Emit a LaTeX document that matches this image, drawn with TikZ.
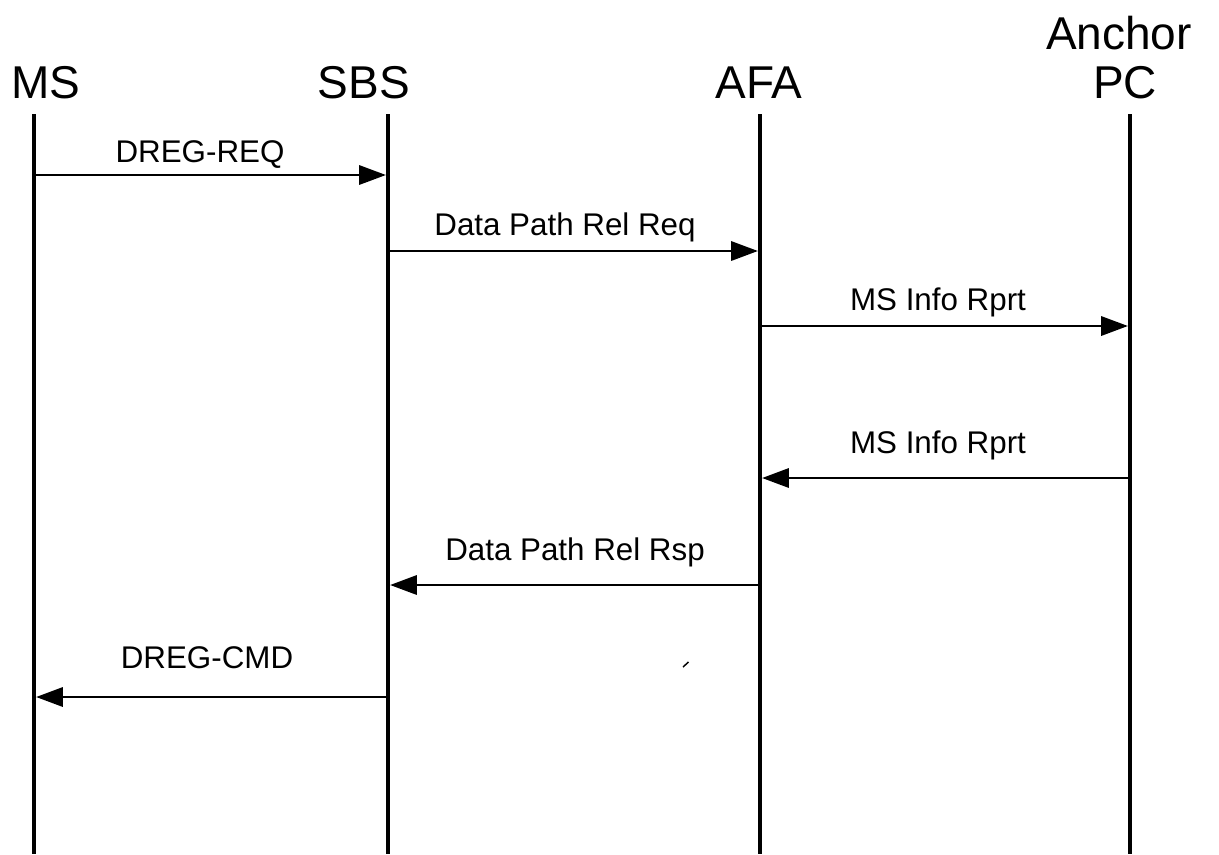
\documentclass[tikz,border=0pt]{standalone}
\usepackage{fontspec}
\setmainfont{Liberation Sans}
\usetikzlibrary{arrows.meta}
\begin{document}
\begin{tikzpicture}[x=0.75pt,y=-0.75pt,
  head/.style={font=\fontsize{34.5pt}{36pt}\selectfont, inner sep=0pt, anchor=base},
  msglabel/.style={font=\fontsize{23.5pt}{26pt}\selectfont, inner sep=0pt, anchor=base},
  lifeline/.style={line width=3.4pt},
  msg/.style={line width=1.5pt, -{Triangle[length=20pt,width=14.5pt]}, shorten >=1.6pt}]
\useasboundingbox (0,0) rectangle (1219,854);
% headers
\node[head] (hMS) at (46,98) {MS};
\node[head] (hSBS) at (364,98) {SBS};
\node[head] (hAFA) at (759,98) {AFA};
\node[head] (hAnc) at (1119,49) {Anchor};
\node[head] (hPC) at (1125,98) {PC};
% lifeline coordinates
\foreach \n/\x in {ms/34, sbs/388, afa/760, apc/1130} {
  \coordinate (\n-top) at (\x,114);
  \coordinate (\n-bot) at (\x,854);
  \foreach \k/\y in {1/175, 2/251, 3/326, 4/478, 5/585, 6/697} {
    \coordinate (\n-\k) at (\x,\y);
  }
}
\foreach \n in {ms, sbs, afa, apc} {
  \draw[lifeline] (\n-top) -- (\n-bot);
}
% messages
\draw[msg] (ms-1) -- (sbs-1);
\node[msglabel] (l1) at (200,162) {DREG-REQ};
\draw[msg] (sbs-2) -- (afa-2);
\node[msglabel] (l2) at (565,235) {Data Path Rel Req};
\draw[msg] (afa-3) -- (apc-3);
\node[msglabel] (l3) at (938,310) {MS Info Rprt};
\draw[msg] (apc-4) -- (afa-4);
\node[msglabel] (l4) at (938,453) {MS Info Rprt};
\draw[msg] (afa-5) -- (sbs-5);
\node[msglabel] (l5) at (575,560) {Data Path Rel Rsp};
\draw[msg] (sbs-6) -- (ms-6);
\node[msglabel] (l6) at (207,668) {DREG-CMD};
% small stray tick
\coordinate (t1) at (683,667);
\coordinate (t2) at (688.5,662);
\draw[line width=1.1pt] (t1) -- (t2);
\end{tikzpicture}
\end{document}
